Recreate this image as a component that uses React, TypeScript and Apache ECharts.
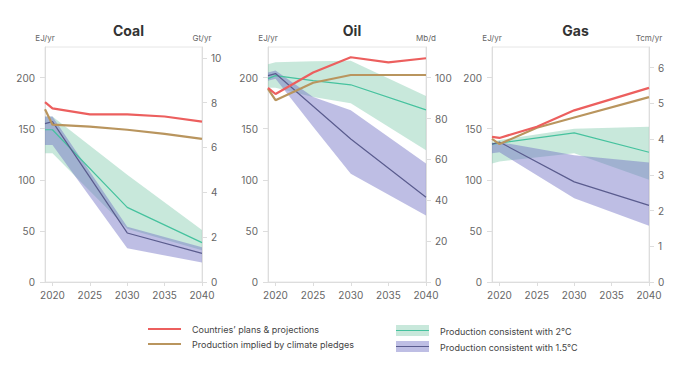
import React, { useEffect, useRef } from "react";
import * as echarts from "echarts";

// ---------- Data ----------
const LINE_YEARS = [2019, 2020, 2025, 2030, 2035, 2040];
const BAND_YEARS = [2019, 2020, 2030, 2040];
const OIL_BAND_YEARS = [2019, 2020, 2025, 2030, 2040];
const X_TICKS = [2020, 2025, 2030, 2035, 2040];
const LEFT_TICKS = [0, 50, 100, 150, 200];

// Coal (EJ/yr)
const coalPlans = [176, 170, 164, 164, 162, 157];
const coalPledges = [169, 154, 152, 149, 145, 140];
const coal2Mid = [149, 149, 73, 38.5];
const coal2Hi = [162, 162, 105, 51];
const coal2Lo = [126, 126, 52, 31];
const coal15Mid = [155, 157, 48, 28];
const coal15Hi = [162, 162, 54, 34];
const coal15Lo = [134, 134, 33, 19];
const coalRightTicks = [0, 2, 4, 6, 8, 10];

// Oil (EJ/yr)
const oilPlans = [190, 184, 205, 220, 215, 219];
const oilPledges = [189, 178, 195, 202.6, 202.6, 202.6];
const oil2Mid = [199, 202, 197, 193, 168.5];
const oil2Hi = [213, 215, 216, 216.6, 182];
const oil2Lo = [190, 190, 181, 175, 129];
const oil15Mid = [202, 204, 172, 140, 83];
const oil15Hi = [205, 207, 181, 168, 116];
const oil15Lo = [197, 199, 152, 106, 65];
const oilRightTicks = [0, 20, 40, 60, 80, 100];

// Gas (EJ/yr)
const GAS_LINE_YEARS = [2019, 2020, 2025, 2030, 2040];
const gasPlans = [142, 141, 152, 168, 190];
const gasPledges = [140, 135, 151, 161, 181];
const gas2Mid = [135, 136, 146, 127];
const gas2Hi = [137, 139, 150, 152];
const gas2Lo = [116, 118, 126, 100];
const gas15Mid = [135, 137, 98, 75];
const gas15Hi = [135, 137, 124, 117];
const gas15Lo = [126, 127, 82, 55];
const gasRightTicks = [0, 1, 2, 3, 4, 5, 6];

const TITLES = ["Coal", "Oil", "Gas"];
const RIGHT_UNITS = ["Gt/yr", "Mb/d", "Tcm/yr"];
const LEGEND_LABELS = [
  "Countries\u2019 plans & projections",
  "Production implied by climate pledges",
  "Production consistent with 2\u00B0C",
  "Production consistent with 1.5\u00B0C",
];

// ---------- Styles ----------
const RED = "#EC5F5E";
const GOLD = "#B9955E";
const GREEN = "#45C29E";
const PURPLE = "#5A5C8E";
const GREEN_BAND = "rgba(125,200,170,0.42)";
const PURPLE_BAND = "rgba(110,110,195,0.45)";
const AXIS_COLOR = "#dddddd";
const LABEL_COLOR = "#666666";
const FONT = "Inter, 'Noto Sans', sans-serif";

const LEFT_MAX = 230;
const RIGHT_MAX = [10.48, 115, 6.58];

const GRIDS = [
  { left: 45, top: 47, width: 157, height: 235 },
  { left: 268, top: 47, width: 158, height: 235 },
  { left: 492, top: 47, width: 157, height: 235 },
];

const pairs = (years: number[], vals: number[]) => vals.map((v, i) => [years[i], v]);

export default function App() {
  const ref = useRef<HTMLDivElement>(null);
  useEffect(() => {
    if (!ref.current) return;
    const chart = echarts.init(ref.current, undefined, { renderer: "svg" });

    const panels = [
      {
        lineYears: LINE_YEARS, plans: coalPlans, pledges: coalPledges,
        bandYears: BAND_YEARS, m2: coal2Mid, h2: coal2Hi, l2: coal2Lo,
        m15: coal15Mid, h15: coal15Hi, l15: coal15Lo, rTicks: coalRightTicks,
      },
      {
        lineYears: LINE_YEARS, plans: oilPlans, pledges: oilPledges,
        bandYears: OIL_BAND_YEARS, m2: oil2Mid, h2: oil2Hi, l2: oil2Lo,
        m15: oil15Mid, h15: oil15Hi, l15: oil15Lo, rTicks: oilRightTicks,
      },
      {
        lineYears: GAS_LINE_YEARS, plans: gasPlans, pledges: gasPledges,
        bandYears: BAND_YEARS, m2: gas2Mid, h2: gas2Hi, l2: gas2Lo,
        m15: gas15Mid, h15: gas15Hi, l15: gas15Lo, rTicks: gasRightTicks,
      },
    ];

    const axisLabelBase = { color: LABEL_COLOR, fontSize: 10, fontFamily: FONT };

    const xAxis = GRIDS.map((_, i) => ({
      type: "value",
      gridIndex: i,
      min: 2019,
      max: 2040,
      axisLine: { show: true, lineStyle: { color: AXIS_COLOR } },
      axisTick: { show: true, length: 4, customValues: X_TICKS, lineStyle: { color: AXIS_COLOR } },
      axisLabel: { ...axisLabelBase, margin: 8, customValues: X_TICKS, formatter: (v: number) => String(v) },
      splitLine: { show: false },
    }));

    const yAxis: any[] = [];
    GRIDS.forEach((_, i) => {
      yAxis.push({
        type: "value",
        gridIndex: i,
        position: "left",
        min: 0,
        max: LEFT_MAX,
        name: "EJ/yr",
        nameLocation: "end",
        nameGap: 5,
        nameTextStyle: { color: LABEL_COLOR, fontSize: 8, fontFamily: FONT },
        axisLine: { show: true, lineStyle: { color: AXIS_COLOR } },
        axisTick: { show: true, length: 5, customValues: LEFT_TICKS, lineStyle: { color: AXIS_COLOR } },
        axisLabel: { ...axisLabelBase, margin: 10, customValues: LEFT_TICKS },
        splitLine: { show: false },
      });
      yAxis.push({
        type: "value",
        gridIndex: i,
        position: "right",
        min: 0,
        max: RIGHT_MAX[i],
        name: RIGHT_UNITS[i],
        nameLocation: "end",
        nameGap: 5,
        nameTextStyle: { color: LABEL_COLOR, fontSize: 8, fontFamily: FONT },
        axisLine: { show: true, lineStyle: { color: AXIS_COLOR } },
        axisTick: { show: true, length: 5, customValues: panels[i].rTicks, lineStyle: { color: AXIS_COLOR } },
        axisLabel: { ...axisLabelBase, margin: 9, customValues: panels[i].rTicks },
        splitLine: { show: false },
      });
    });

    const bandSeries = (i: number, years: number[], hi: number[], lo: number[], fill: string, z: number) => ({
      type: "custom",
      xAxisIndex: i,
      yAxisIndex: 2 * i,
      silent: true,
      z,
      data: [[years[0], lo[0]]],
      renderItem: (_params: any, api: any) => {
        const top = hi.map((v, k) => api.coord([years[k], v]));
        const bottom = lo.map((v, k) => api.coord([years[k], v])).reverse();
        return {
          type: "polygon",
          shape: { points: top.concat(bottom) },
          style: { fill, stroke: "none" },
        };
      },
    });

    const lineSeries = (i: number, name: string, data: number[][], color: string, width: number, z: number) => ({
      type: "line",
      name,
      xAxisIndex: i,
      yAxisIndex: 2 * i,
      data,
      showSymbol: false,
      symbol: "none",
      silent: true,
      z,
      lineStyle: { color, width },
    });

    const series: any[] = [];
    panels.forEach((p, i) => {
      series.push(bandSeries(i, p.bandYears, p.h2, p.l2, GREEN_BAND, 1));
      series.push(bandSeries(i, p.bandYears, p.h15, p.l15, PURPLE_BAND, 2));
      series.push(lineSeries(i, LEGEND_LABELS[2], pairs(p.bandYears, p.m2), GREEN, 1.2, 3));
      series.push(lineSeries(i, LEGEND_LABELS[3], pairs(p.bandYears, p.m15), PURPLE, 1.2, 4));
      series.push(lineSeries(i, LEGEND_LABELS[1], pairs(p.lineYears, p.pledges), GOLD, 2.2, 5));
      series.push(lineSeries(i, LEGEND_LABELS[0], pairs(p.lineYears, p.plans), RED, 2.2, 6));
    });

    const legendText = (x: number, y: number, text: string) => ({
      type: "text",
      x,
      y,
      style: { text, fill: "#444", fontSize: 9, fontFamily: FONT, verticalAlign: "middle", align: "left" },
    });

    const graphic = [
      { type: "line", shape: { x1: 148, y1: 329, x2: 181, y2: 329 }, style: { stroke: RED, lineWidth: 2.2 } },
      legendText(192, 329, LEGEND_LABELS[0]),
      { type: "line", shape: { x1: 148, y1: 344, x2: 181, y2: 344 }, style: { stroke: GOLD, lineWidth: 2.2 } },
      legendText(192, 344, LEGEND_LABELS[1]),
      { type: "rect", shape: { x: 396, y: 325, width: 33, height: 11 }, style: { fill: GREEN_BAND } },
      { type: "line", shape: { x1: 396, y1: 330.5, x2: 429, y2: 330.5 }, style: { stroke: GREEN, lineWidth: 1.2 } },
      legendText(440, 331, LEGEND_LABELS[2]),
      { type: "rect", shape: { x: 396, y: 341, width: 33, height: 11 }, style: { fill: PURPLE_BAND } },
      { type: "line", shape: { x1: 396, y1: 346.5, x2: 429, y2: 346.5 }, style: { stroke: PURPLE, lineWidth: 1.2 } },
      legendText(440, 347, LEGEND_LABELS[3]),
    ];

    const title = TITLES.map((t, i) => ({
      text: t,
      left: GRIDS[i].left + GRIDS[i].width / 2,
      top: 18,
      textAlign: "center",
      textStyle: { fontSize: 14, fontWeight: "bold", color: "#333", fontFamily: FONT },
    }));

    chart.setOption({
      animation: false,
      backgroundColor: "#ffffff",
      title,
      grid: GRIDS.map((g) => ({ ...g, show: true, borderColor: "#e6e6e6", borderWidth: 1, backgroundColor: "transparent" })),
      xAxis,
      yAxis,
      series,
      graphic,
    });

    return () => chart.dispose();
  }, []);

  return (
    <div
      ref={ref}
      style={{ position: "absolute", left: 0, top: 0, width: 700, height: 367, background: "#fff" }}
    />
  );
}
